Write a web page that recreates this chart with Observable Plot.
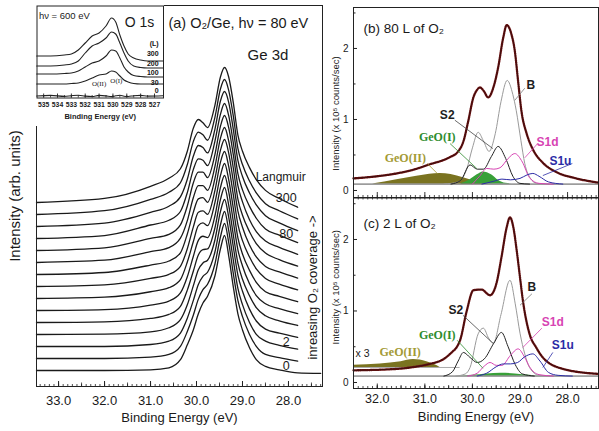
<!DOCTYPE html>
<html><head><meta charset="utf-8">
<script src="https://cdn.jsdelivr.net/npm/d3@7"></script>
<script src="https://cdn.jsdelivr.net/npm/@observablehq/plot@0.6"></script>
<style>
html,body{margin:0;padding:0;background:#fff;}
#fig{position:relative;width:599px;height:431px;overflow:hidden;background:#fff;}
</style></head><body><div id="fig"></div>
<script>
// ---------------- Panel (a): Ge 3d waterfall (normalised, 15 coverages) ----------------
const eA = [33.48, 32.0, 31.0, 30.6, 30.35, 30.2, 30.07, 29.96, 29.86, 29.76, 29.6, 29.48, 29.39, 29.3, 29.2, 29.1, 29.0, 28.85, 28.7, 28.5, 28.2, 27.8, 27.3];
const spectraA = [
  [0,0,0.005,0.02,0.08,0.19,0.3,0.42,0.5,0.55,0.7,0.90,1,0.85,0.62,0.42,0.30,0.17,0.08,0.03,0.005,-0.018,-0.022],
  [0,0,0.01,0.03,0.09,0.2,0.32,0.44,0.51,0.55,0.7,0.90,1,0.86,0.63,0.43,0.31,0.18,0.09,0.03,0.007,-0.019],
  [0,0,0.015,0.04,0.1,0.21,0.34,0.46,0.52,0.55,0.7,0.90,1,0.86,0.64,0.43,0.31,0.18,0.09,0.04,0.009,-0.02],
  [0,0.003,0.02,0.05,0.11,0.22,0.36,0.48,0.53,0.55,0.7,0.91,1,0.87,0.65,0.44,0.32,0.19,0.10,0.04,0.01,-0.021],
  [0,0.005,0.03,0.06,0.12,0.24,0.38,0.5,0.54,0.545,0.7,0.91,1,0.87,0.65,0.44,0.32,0.20,0.11,0.05,0.012,-0.022],
  [0,0.007,0.04,0.07,0.13,0.25,0.4,0.52,0.55,0.54,0.7,0.91,1,0.88,0.66,0.45,0.33,0.20,0.11,0.05,0.014,-0.023],
  [0,0.01,0.05,0.08,0.14,0.27,0.42,0.54,0.56,0.54,0.71,0.91,1,0.88,0.67,0.45,0.33,0.21,0.12,0.05,0.016,-0.024],
  [0,0.012,0.06,0.09,0.15,0.28,0.44,0.55,0.56,0.535,0.71,0.92,1,0.89,0.68,0.46,0.34,0.22,0.13,0.06,0.018,-0.025],
  [0,0.015,0.07,0.1,0.16,0.3,0.46,0.56,0.57,0.535,0.71,0.92,1,0.90,0.69,0.47,0.35,0.22,0.13,0.06,0.02,-0.026],
  [0,0.017,0.08,0.11,0.18,0.31,0.48,0.57,0.57,0.535,0.71,0.92,1,0.90,0.70,0.47,0.35,0.23,0.14,0.07,0.021,-0.027],
  [0,0.02,0.09,0.12,0.19,0.33,0.5,0.58,0.58,0.54,0.71,0.92,1,0.91,0.71,0.48,0.36,0.23,0.14,0.07,0.023,-0.028],
  [0,0.022,0.1,0.135,0.2,0.34,0.51,0.59,0.58,0.54,0.72,0.92,1,0.91,0.71,0.48,0.36,0.24,0.15,0.07,0.025,-0.03],
  [0,0.025,0.105,0.15,0.22,0.35,0.52,0.6,0.585,0.545,0.72,0.93,1,0.92,0.72,0.49,0.37,0.25,0.16,0.08,0.027,-0.031],
  [0,0.028,0.112,0.165,0.235,0.37,0.54,0.61,0.59,0.55,0.72,0.93,1,0.92,0.73,0.49,0.37,0.25,0.16,0.08,0.028,-0.033],
  [0,0.03,0.12,0.18,0.25,0.38,0.55,0.615,0.59,0.555,0.72,0.93,1,0.93,0.74,0.5,0.38,0.26,0.17,0.09,0.03,-0.035]
];
const coverageIdx = [0, 2, 11, 14];
const coverageText = ["0", "2", "80", "300"];
const ticksA = [33, 32, 31, 30, 29, 28];

// ---------------- Inset: O 1s ----------------
const eIn = [535.5, 534.5, 533.5, 533.0, 532.5, 532.0, 531.5, 531.0, 530.5, 530.1, 529.8, 529.5, 529.2, 528.9, 528.5, 528.0, 527.5, 526.4];
const o1s_0   = [2,2.6,1.6,2.3,2.8,1.9,1.5,2.6,2.1,1.4,2.2,2.7,1.8,1.5,2.3,2.6,1.9,2.2];
const o1s_30  = [14,14,14,14.5,15,17,20,23,24,27,26,22,18,16,14.5,14,14,14];
const o1s_100 = [24,24,24.5,25,27,31,35,37,42,48,47,40,31,26,22.5,21.5,21,21];
const o1s_200 = [32,32,33,34,37,45,52,55,60,66,64,55,45,37,32,30.5,30,30];
const o1s_300 = [42,42,43,44,48,55,62,65,72,80,76,63,52,44,40,38,37,37];
const insetLabels = ["(L)", "300", "200", "100", "30", "0"];
const insetLabelV = [54, 44, 34.5, 25, 15, 7];
const ticksIn = [535, 534, 533, 532, 531, 530, 529, 528, 527];

// ---------------- Panel (b): 80 L fit ----------------
const bgB = 0.09;
const envB_e = [32.5,32.0,31.59,31.2,30.89,30.6,30.47,30.3,30.19,30.09,29.98,29.91,29.84,29.76,29.67,29.56,29.46,29.35,29.28,29.18,29.11,29.04,28.97,28.86,28.73,28.52,28.24,27.82,27.35];
const envB_v = [0.17,0.2,0.24,0.3,0.37,0.43,0.47,0.55,0.69,0.97,1.31,1.41,1.45,1.40,1.31,1.45,1.73,2.16,2.33,2.2,1.97,1.54,1.12,0.8,0.58,0.39,0.26,0.17,0.11];
const bB_e  = [30.6,30.3,30.12,30.0,29.88,29.77,29.65,29.52,29.4,29.27,29.15,29.08,28.98,28.9,28.78,28.65,28.4];
const bB_v  = [0.09,0.12,0.3,0.6,0.82,0.7,0.55,0.8,1.25,1.55,1.35,1.13,0.7,0.38,0.17,0.1,0.09];
const s2B_e = [30.45,30.25,30.05,29.9,29.77,29.6,29.46,29.3,29.15,29.0,28.8];
const s2B_v = [0.09,0.14,0.36,0.3,0.3,0.48,0.62,0.45,0.2,0.1,0.09];
const s1dB_e = [30.0,29.85,29.7,29.55,29.42,29.25,29.11,28.95,28.8,28.6,28.3];
const s1dB_v = [0.09,0.2,0.31,0.3,0.32,0.45,0.52,0.4,0.18,0.1,0.09];
const s1uB_e = [29.8,29.55,29.38,29.2,29.0,28.85,28.73,28.6,28.4,28.1];
const s1uB_v = [0.09,0.13,0.16,0.15,0.17,0.22,0.24,0.2,0.12,0.09];
const geo1B_e = [30.25,30.05,29.9,29.77,29.6,29.45,29.3,29.1];
const geo1B_v = [0.09,0.15,0.22,0.26,0.22,0.14,0.1,0.09];
const geo2B_e = [32.1,31.59,31.17,30.9,30.68,30.45,30.19,29.95,29.7];
const geo2B_v = [0.09,0.15,0.2,0.23,0.24,0.225,0.18,0.13,0.09];

// ---------------- Panel (c): 2 L fit ----------------
const bgC = 0.09;
const envC_e = [32.5,31.59,31.2,30.89,30.6,30.47,30.26,30.12,29.98,29.81,29.63,29.49,29.39,29.28,29.21,29.14,29.07,29.0,28.94,28.8,28.66,28.52,28.1,27.35];
const envC_v = [0.17,0.19,0.22,0.26,0.33,0.4,0.59,1.0,1.29,1.3,1.22,1.4,1.75,2.17,2.31,2.17,1.85,1.47,1.15,0.68,0.49,0.35,0.19,0.12];
const bC_e  = [30.35,30.15,30.05,29.88,29.77,29.66,29.56,29.4,29.21,29.1,29.0,28.9,28.8,28.6,28.3];
const bC_v  = [0.09,0.12,0.21,0.68,0.76,0.62,0.55,0.95,1.43,1.1,0.69,0.4,0.21,0.1,0.09];
const s2C_e = [30.6,30.42,30.3,30.19,30.05,29.9,29.75,29.55,29.39,29.25,29.1,28.95,28.7];
const s2C_v = [0.09,0.15,0.3,0.42,0.35,0.28,0.33,0.55,0.70,0.5,0.25,0.12,0.09];
const s1dC_e = [30.1,29.9,29.75,29.63,29.5,29.38,29.2,29.04,28.9,28.8,28.6,28.3];
const s1dC_v = [0.09,0.13,0.23,0.28,0.24,0.24,0.38,0.47,0.35,0.22,0.11,0.09];
const s1uC_e = [29.9,29.7,29.5,29.35,29.2,29.05,28.9,28.73,28.58,28.4,28.2,27.9];
const s1uC_v = [0.09,0.13,0.22,0.26,0.26,0.28,0.36,0.40,0.3,0.14,0.1,0.09];
const geo1C_e = [30.3,30.0,29.7,29.4,29.1,28.8,28.6];
const geo1C_v = [0.09,0.1,0.12,0.13,0.12,0.1,0.09];
const geo2x3C_e = [32.5,31.94,31.5,31.24,30.96,30.8,30.68];
const geo2x3C_v = [0.24,0.26,0.29,0.32,0.29,0.25,0.21];
const geo2x3Base = 0.21, geo2x3End = 30.26;
const ticksBC = [32, 31, 30, 29, 28];

// annotation labels and leader lines (data coordinates)
const OLIVE_FILL = "#7a7320", OLIVE_TXT = "#a39a34", GREEN_FILL = "#38a038", GREEN_TXT = "#2e8c2e";
const MAGENTA = "#d744b3", BLUE = "#2c2ca6", GREY = "#9a9a9a", DARK = "#1e1e1e";
const labelsB = [
  {t:"GeO(II)", e:31.41, v:0.46, c:OLIVE_TXT, serif:true},
  {t:"GeO(I)", e:30.74, v:0.75, c:GREEN_TXT, serif:true},
  {t:"S2", e:30.53, v:1.06, c:DARK},
  {t:"B", e:28.77, v:1.48, c:DARK},
  {t:"S1d", e:28.42, v:0.68, c:MAGENTA},
  {t:"S1u", e:28.15, v:0.41, c:BLUE}
];
const leadersB = [
  {e1:30.95,v1:0.38,e2:30.74,v2:0.24,c:OLIVE_TXT},
  {e1:30.47,v1:0.66,e2:29.91,v2:0.31,c:GREEN_TXT},
  {e1:30.37,v1:0.99,e2:29.57,v2:0.59,c:"#444"},
  {e1:28.90,v1:1.44,e2:29.11,v2:1.27,c:"#777"},
  {e1:28.63,v1:0.66,e2:28.90,v2:0.46,c:MAGENTA},
  {e1:27.90,v1:0.38,e2:28.52,v2:0.21,c:BLUE}
];
const labelsC = [
  {t:"GeO(II)", e:31.52, v:0.42, c:OLIVE_TXT, serif:true},
  {t:"GeO(I)", e:30.74, v:0.66, c:GREEN_TXT, serif:true},
  {t:"S2", e:30.35, v:1.01, c:DARK},
  {t:"B", e:28.75, v:1.33, c:DARK},
  {t:"S1d", e:28.31, v:0.84, c:MAGENTA},
  {t:"S1u", e:28.10, v:0.52, c:BLUE}
];
const leadersC = [
  {e1:30.20,v1:0.94,e2:29.57,v2:0.55,c:"#444"},
  {e1:28.75,v1:1.24,e2:29.00,v2:1.08,c:"#777"},
  {e1:28.54,v1:0.76,e2:28.94,v2:0.49,c:MAGENTA},
  {e1:28.31,v1:0.42,e2:28.52,v2:0.21,c:BLUE},
  {e1:30.32,v1:0.59,e2:29.78,v2:0.20,c:GREEN_TXT}
];

// ======================================================================
const FONT = '"Liberation Sans", Arial, Helvetica, sans-serif';
const SERIF = '"Liberation Serif", "Times New Roman", serif';
const fig = document.getElementById("fig");
function place(svg, left, top) {
  svg.style.position = "absolute";
  svg.style.left = left + "px";
  svg.style.top = top + "px";
  svg.style.maxWidth = "none";
  fig.appendChild(svg);
}
const zip = (es, vs) => es.map((e, i) => ({e, v: vs[i]}));
const tenths = (lo, hi) => d3.range(Math.round(lo * 10), Math.round(hi * 10) + 1).map(d => d / 10);

// ---------- panel (a) ----------
const step = 0.0889;
const rowsA = [];
spectraA.forEach((vals, k) => vals.forEach((v, i) => rowsA.push({e: eA[i], v: v + k * step, k})));
const covRows = coverageIdx.map((k, i) => ({e: 28.05, v: k * step + 0.03, t: coverageText[i]}));
const HA = 431 - 5 - 45;
const minorA = tenths(27.3, 33.4);
const halfA = minorA.filter(d => Math.abs(d * 2 - Math.round(d * 2)) < 1e-6);

const plotA = Plot.plot({
  width: 330, height: 431, marginLeft: 36, marginRight: 8, marginTop: 5, marginBottom: 45,
  style: {fontFamily: FONT, background: "transparent", color: "#1a1a1a"},
  x: {domain: [33.48, 27.26], axis: null},
  y: {domain: [-0.1185, 2.704], axis: null},
  marks: [
    Plot.ruleX(minorA, {x: d => d, insetTop: HA - 2, stroke: "#222", strokeWidth: 0.8}),
    Plot.ruleX(halfA, {x: d => d, insetTop: HA - 3.5, stroke: "#222", strokeWidth: 0.8}),
    Plot.ruleX(ticksA, {x: d => d, insetTop: HA - 5, stroke: "#222", strokeWidth: 1}),
    Plot.line(rowsA, {x: "e", y: "v", z: "k", curve: "monotone-x", stroke: "#1a1a1a", strokeWidth: 1.3}),
    Plot.frame({stroke: "#222", strokeWidth: 1}),
    Plot.axisX({ticks: ticksA, tickFormat: d => d.toFixed(1), tickSize: 0, tickPadding: 9, fontSize: 13, label: null}),
    Plot.text(["Binding Energy (eV)"], {text: d => d, frameAnchor: "bottom", dy: 35, fontSize: 13}),
    Plot.text(["Intensity (arb. units)"], {text: d => d, frameAnchor: "left", textAnchor: "middle", rotate: -90, dx: -21, fontSize: 15}),
    Plot.text(["(a) O₂/Ge, hν = 80 eV"], {text: d => d, x: 30.61, y: 2.57, textAnchor: "start", fontSize: 14.5}),
    Plot.text(["Ge 3d"], {text: d => d, x: 28.89, y: 2.333, textAnchor: "start", fontSize: 15}),
    Plot.text(["Langmuir"], {text: d => d, x: 28.17, y: 1.43, fontSize: 12}),
    Plot.text(covRows, {x: "e", y: "v", text: "t", fontSize: 12.5}),
    Plot.text(["inreasing O₂ coverage ->"], {text: d => d, x: 27.48, y: 0.615, rotate: -90, fontSize: 13})
  ]
});
place(plotA, 0, 0);

// ---------- inset ----------
const rowsIn = [];
[o1s_0, o1s_30, o1s_100, o1s_200, o1s_300].forEach((vals, j) => vals.forEach((v, i) => rowsIn.push({e: eIn[i], v, j})));
const insetLab = insetLabels.map((t, i) => ({t, v: insetLabelV[i]}));
const HIn = 92;
const plotIn = Plot.plot({
  width: 128, height: 121, marginLeft: 0.5, marginRight: 1, marginTop: 0.5, marginBottom: 28.5,
  style: {fontFamily: FONT, background: "white", color: "#1a1a1a"},
  x: {domain: [535.48, 526.35], axis: null},
  y: {domain: [0, 92], axis: null},
  marks: [
    Plot.ruleX(d3.range(527, 535.5, 0.5), {x: d => d, insetTop: HIn - 2.5, stroke: "#222", strokeWidth: 0.8}),
    Plot.ruleX(ticksIn, {x: d => d, insetTop: HIn - 4, stroke: "#222", strokeWidth: 0.9}),
    Plot.line(rowsIn, {x: "e", y: "v", z: "j", curve: "monotone-x", stroke: "#222", strokeWidth: 1.1}),
    Plot.frame({stroke: "#222", strokeWidth: 1}),
    Plot.axisX({ticks: ticksIn, tickSize: 0, tickPadding: 4, fontSize: 6.8, fontWeight: "bold", label: null}),
    Plot.text(["Binding Energy (eV)"], {text: d => d, frameAnchor: "bottom", dy: 21, fontSize: 7.5, fontWeight: "bold"}),
    Plot.text(["hν = 600 eV"], {text: d => d, x: 535.34, y: 82, textAnchor: "start", fontSize: 9.5}),
    Plot.text(["O 1s"], {text: d => d, x: 529.15, y: 75, textAnchor: "start", fontSize: 14}),
    Plot.text(insetLab, {x: 526.7, y: "v", text: "t", textAnchor: "end", fontSize: 7, fontWeight: "bold", fill: "#111"}),
    Plot.text(["O(II)"], {text: d => d, x: 531.0, y: 14, fontSize: 7, fontFamily: SERIF}),
    Plot.text(["O(I)"], {text: d => d, x: 529.75, y: 17.5, fontSize: 7, fontFamily: SERIF})
  ]
});
place(plotIn, 36, 5);

// ---------- shared helpers for (b) / (c) ----------
const minorBC = tenths(27.4, 32.5);
const halfBC = minorBC.filter(d => Math.abs(d * 2 - Math.round(d * 2)) < 1e-6);
function fitMarks(p) {
  return [
    ...p.extra,
    Plot.areaY(p.geo2, {x: "e", y1: p.bg, y2: "v", fill: OLIVE_FILL, curve: "monotone-x"}),
    Plot.areaY(p.geo1, {x: "e", y1: p.bg, y2: "v", fill: GREEN_FILL, curve: "monotone-x"}),
    Plot.ruleY([p.bg], {stroke: "#555", strokeWidth: 1}),
    Plot.line(p.B, {x: "e", y: "v", stroke: GREY, strokeWidth: 1, curve: "monotone-x"}),
    Plot.line(p.S2, {x: "e", y: "v", stroke: "#222", strokeWidth: 1, curve: "monotone-x"}),
    Plot.line(p.S1d, {x: "e", y: "v", stroke: MAGENTA, strokeWidth: 1, curve: "monotone-x"}),
    Plot.line(p.S1u, {x: "e", y: "v", stroke: BLUE, strokeWidth: 1, curve: "monotone-x"}),
    Plot.line(p.env, {x: "e", y: "v", stroke: "#6e1212", strokeWidth: 2.3, strokeDasharray: "1.1 1.1", curve: "monotone-x"}),
    Plot.line(p.env, {x: "e", y: "v", stroke: "#1a0a0a", strokeWidth: 0.6, curve: "monotone-x"}),
    Plot.link(p.leaders, {x1: "e1", y1: "v1", x2: "e2", y2: "v2", stroke: "c", strokeWidth: 0.8}),
    Plot.text(p.labels.filter(d => !d.serif), {x: "e", y: "v", text: "t", fill: "c", fontSize: 12, fontWeight: "bold"}),
    Plot.text(p.labels.filter(d => d.serif), {x: "e", y: "v", text: "t", fill: "c", fontSize: 12, fontWeight: "bold", fontFamily: SERIF}),
    Plot.frame({stroke: "#222", strokeWidth: 1}),
    Plot.ruleY([0, 1, 2], {y: d => d, insetRight: p.W - 4, stroke: "#222"}),
    Plot.ruleY([0.5, 1.5, 2.5], {y: d => d, insetRight: p.W - 2.5, stroke: "#222"}),
    Plot.axisY({ticks: [0, 1, 2], tickFormat: d => String(d), tickSize: 0, tickPadding: 5, fontSize: 10, label: null}),
    Plot.text(["Intensity (x 10⁵ counts/sec)"], {text: d => d, frameAnchor: "left", textAnchor: "middle", rotate: -90, dx: -18, dy: p.labelDy, fontSize: 9.5}),
    Plot.text([p.title], {text: d => d, frameAnchor: "top-left", textAnchor: "start", dx: 10, dy: p.titleDy, fontSize: 13.5})
  ];
}

// ---------- panel (b) ----------
const HB = 200 - 7 - 3, WB = 269 - 23 - 1;
const plotB = Plot.plot({
  width: 269, height: 200, marginLeft: 23, marginRight: 1, marginTop: 7, marginBottom: 3,
  style: {fontFamily: FONT, background: "transparent", color: "#1a1a1a"},
  x: {domain: [32.5, 27.35], axis: null},
  y: {domain: [-0.099, 2.577], axis: null},
  marks: fitMarks({
    extra: [
      Plot.ruleX(minorBC, {x: d => d, insetTop: HB - 2, stroke: "#222", strokeWidth: 0.8}),
      Plot.ruleX(ticksBC, {x: d => d, insetTop: HB - 5, stroke: "#222", strokeWidth: 0.9})
    ],
    bg: bgB, W: WB, labelDy: 11, titleDy: 16, title: "(b) 80 L of O₂",
    geo2: zip(geo2B_e, geo2B_v), geo1: zip(geo1B_e, geo1B_v),
    B: zip(bB_e, bB_v), S2: zip(s2B_e, s2B_v), S1d: zip(s1dB_e, s1dB_v), S1u: zip(s1uB_e, s1uB_v),
    env: zip(envB_e, envB_v), leaders: leadersB, labels: labelsB
  })
});
place(plotB, 330, 0);

// ---------- panel (c) ----------
const HC = 234 - 0.5 - 43, WC = 269 - 23 - 1;
const plotC = Plot.plot({
  width: 269, height: 234, marginLeft: 23, marginRight: 1, marginTop: 0.5, marginBottom: 43,
  style: {fontFamily: FONT, background: "transparent", color: "#1a1a1a"},
  x: {domain: [32.5, 27.35], axis: null},
  y: {domain: [-0.084, 2.58], axis: null},
  marks: [
    ...fitMarks({
      extra: [
        Plot.ruleX(minorBC, {x: d => d, insetBottom: HC - 2, stroke: "#222", strokeWidth: 0.8}),
        Plot.ruleX(minorBC, {x: d => d, insetTop: HC - 2, stroke: "#222", strokeWidth: 0.8}),
        Plot.ruleX(halfBC, {x: d => d, insetTop: HC - 3, stroke: "#222", strokeWidth: 0.8}),
        Plot.ruleX(ticksBC, {x: d => d, insetTop: HC - 4.5, stroke: "#222", strokeWidth: 0.9}),
        Plot.areaY(zip(geo2x3C_e, geo2x3C_v), {x: "e", y1: geo2x3Base, y2: "v", fill: OLIVE_FILL, curve: "monotone-x"}),
        Plot.ruleY([geo2x3Base], {x1: 32.5, x2: geo2x3End, stroke: "#aaa", strokeWidth: 1})
      ],
      bg: bgC, W: WC, labelDy: -6, titleDy: 20.5, title: "(c) 2 L of O₂",
      geo2: [], geo1: zip(geo1C_e, geo1C_v),
      B: zip(bC_e, bC_v), S2: zip(s2C_e, s2C_v), S1d: zip(s1dC_e, s1dC_v), S1u: zip(s1uC_e, s1uC_v),
      env: zip(envC_e, envC_v), leaders: leadersC, labels: labelsC
    }),
    Plot.text(["x 3"], {text: d => d, x: 32.31, y: 0.41, fontSize: 10.5}),
    Plot.axisX({ticks: ticksBC, tickFormat: d => d.toFixed(1), tickSize: 0, tickPadding: 6, fontSize: 12.5, label: null}),
    Plot.text(["Binding Energy (eV)"], {text: d => d, frameAnchor: "bottom", dy: 32, fontSize: 13})
  ]
});
place(plotC, 330, 197);
</script></body></html>
